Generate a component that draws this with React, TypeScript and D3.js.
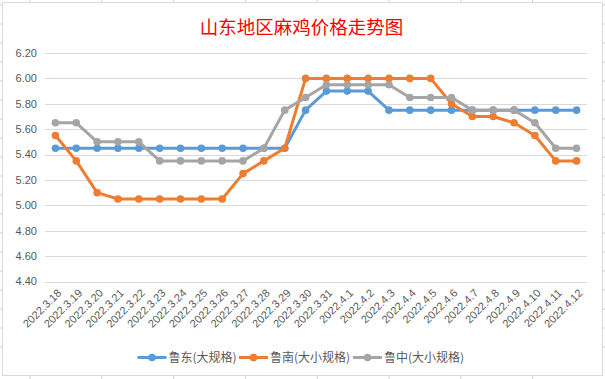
import React from "react";
import * as d3 from "d3";

const categories = [
  "2022.3.18","2022.3.19","2022.3.20","2022.3.21","2022.3.22","2022.3.23","2022.3.24",
  "2022.3.25","2022.3.26","2022.3.27","2022.3.28","2022.3.29","2022.3.30","2022.3.31",
  "2022.4.1","2022.4.2","2022.4.3","2022.4.4","2022.4.5","2022.4.6","2022.4.7",
  "2022.4.8","2022.4.9","2022.4.10","2022.4.11","2022.4.12",
];
const ludong = [5.45,5.45,5.45,5.45,5.45,5.45,5.45,5.45,5.45,5.45,5.45,5.45,5.75,5.9,5.9,5.9,5.75,5.75,5.75,5.75,5.75,5.75,5.75,5.75,5.75,5.75];
const lunan = [5.55,5.35,5.1,5.05,5.05,5.05,5.05,5.05,5.05,5.25,5.35,5.45,6.0,6.0,6.0,6.0,6.0,6.0,6.0,5.8,5.7,5.7,5.65,5.55,5.35,5.35];
const luzhong = [5.65,5.65,5.5,5.5,5.5,5.35,5.35,5.35,5.35,5.35,5.45,5.75,5.85,5.95,5.95,5.95,5.95,5.85,5.85,5.85,5.75,5.75,5.75,5.65,5.45,5.45];
const seriesNames = ["鲁东(大规格)", "鲁南(大小规格)", "鲁中(大小规格)"];
const yTicks = [4.4, 4.6, 4.8, 5.0, 5.2, 5.4, 5.6, 5.8, 6.0, 6.2];
const title = "山东地区麻鸡价格走势图";

const colors = ["#5B9BD5", "#ED7D31", "#A5A5A5"];
const seriesData = [ludong, lunan, luzhong];

export default function App() {
  const W = 605, H = 379;
  const x = d3.scaleBand<string>().domain(categories).range([45, 587]);
  const y = d3.scaleLinear().domain([4.4, 6.2]).range([281.5, 53]);
  const cx = (c: string) => (x(c) as number) + x.bandwidth() / 2;
  const line = d3.line<number>().x((_, i) => cx(categories[i])).y((d) => y(d));
  const colStubs = d3.range(8).map((i) => 30 + i * 71.8);
  const rowStubs = d3.range(19).map((i) => 5 + i * 19);
  const legendX = [137.5, 239, 353];
  const fontFam = "'Liberation Sans', Arial, sans-serif";
  const cjk = "'Noto Sans CJK SC', sans-serif";
  return (
    <svg width={W} height={H} style={{ position: "absolute", left: 0, top: 0, background: "#fff" }}>
      <rect x={0} y={0} width={W} height={H} fill="#fff" />
      {colStubs.map((sx, i) => (
        <g key={"c" + i} stroke="#D0D0D8" strokeWidth={1}>
          <line x1={sx} x2={sx} y1={0} y2={2} />
          <line x1={sx} x2={sx} y1={376} y2={379} />
        </g>
      ))}
      {rowStubs.map((sy, i) => (
        <g key={"r" + i} stroke="#D0D0D8" strokeWidth={1}>
          <line x1={0} x2={2} y1={sy} y2={sy} />
          <line x1={603} x2={605} y1={sy} y2={sy} />
        </g>
      ))}
      <rect x={2.5} y={2.5} width={600} height={373} fill="#fff" stroke="#D9D9D9" strokeWidth={1} />
      <text x={301.5} y={34} textAnchor="middle" fill="#FF0000" fontSize={18.5} fontFamily={cjk}>
        {title}
      </text>
      {yTicks.map((t) => (
        <g key={t}>
          <line x1={45} x2={587} y1={Math.round(y(t)) + 0.5} y2={Math.round(y(t)) + 0.5} stroke="#D9D9D9" strokeWidth={1} />
          <text x={37} y={y(t)} dy="0.35em" textAnchor="end" fontSize={11} fill="#595959" fontFamily={fontFam}>
            {t.toFixed(2)}
          </text>
        </g>
      ))}
      {categories.map((c) => (
        <text
          key={c}
          transform={`translate(${cx(c) + 4},${291}) rotate(-45)`}
          textAnchor="end"
          dy="0.35em"
          fontSize={11}
          fill="#595959"
          fontFamily={fontFam}
        >
          {c}
        </text>
      ))}
      {seriesData.map((s, si) => (
        <g key={si}>
          <path d={line(s) as string} fill="none" stroke={colors[si]} strokeWidth={3} strokeLinejoin="round" />
          {s.map((v, i) => (
            <circle key={i} cx={cx(categories[i])} cy={y(v)} r={3.8} fill={colors[si]} />
          ))}
        </g>
      ))}
      {seriesNames.map((n, i) => (
        <g key={n}>
          <line x1={legendX[i]} x2={legendX[i] + 29} y1={357.5} y2={357.5} stroke={colors[i]} strokeWidth={3} />
          <circle cx={legendX[i] + 14.5} cy={357.5} r={3.8} fill={colors[i]} />
          <text x={legendX[i] + 31} y={357.5} dy="0.35em" fontSize={12} fill="#595959" fontFamily={cjk}>
            {n}
          </text>
        </g>
      ))}
    </svg>
  );
}
